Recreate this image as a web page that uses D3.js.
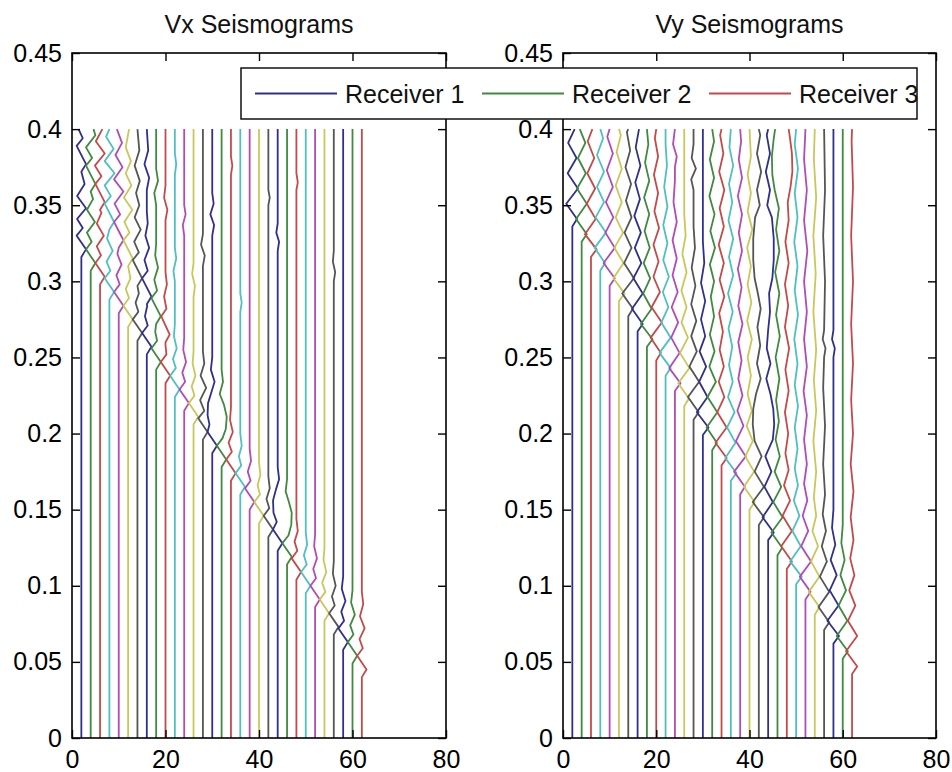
<!DOCTYPE html>
<html>
<head>
<meta charset="utf-8">
<script src="https://cdn.jsdelivr.net/npm/d3@7"></script>
<style>
  body { margin: 0; background: #fff; }
  svg text { font-family: "Liberation Sans", Arial, Helvetica, sans-serif; }
</style>
</head>
<body>
<svg id="fig" width="952" height="772"></svg>
<script>
// Receiver offsets (one seismogram trace per receiver)
const offsets = [2,4,6,8,10,12,14,16,18,20,22,24,26,28,30,32,34,36,38,40,42,44,46,48,50,52,54,56,58,60,62];

// Axis ticks
const timeTicks = [0,0.05,0.1,0.15,0.2,0.25,0.3,0.35,0.4,0.45];
const timeLabels = ["0","0.05","0.1","0.15","0.2","0.25","0.3","0.35","0.4","0.45"];
const offsetTicks = [0,20,40,60,80];

// Line colour order (cycled over traces)
const traceColors = ["#30308c","#3f8a3f","#c44a4a","#4fc0c0","#b04cb4","#c8c85a","#555555"];
const legendLabels = ["Receiver 1","Receiver 2","Receiver 3"];

// Vx traces, receiver 1..31: "time_ms,deflection" vertices (deflection in offset units)
const vxTraces = [
"0,0 316,0 321,1.0 330,-1.0 335,0.3 341,-0.9 348,1.0 356,-0.9 364,0.7 372,0 377,1.0 389,-1.0 394,0.3 400,-0.6",
"0,0 307,0 312,1.0 321,-1.0 326,0.2 332,-0.8 339,0.9 347,-0.8 354,0.5 359,0 364,1.0 376,-1.0 381,0.3 388,-1.0 396,1.0 400,0.6",
"0,0 298,0 303,1.0 312,-1.0 317,0.2 323,-0.7 330,0.8 338,-0.7 345,0.3 347,0 352,1.0 364,-1.0 369,0.3 376,-1.1 384,1.0 392,-0.9 400,0.5",
"0,0 288,0 293,1.0 302,-1.0 307,0.2 313,-0.6 320,0.7 328,-0.5 334,0 339,1.0 351,-1.0 356,0.3 363,-1.0 371,1.1 379,-1.0 387,0.9 395,-0.7 400,0",
"0,0 279,0 284,1.0 293,-1.0 298,0.2 304,-0.5 311,0.6 318,-0.3 322,0 327,1.0 339,-1.0 344,0.3 351,-0.9 359,1.0 367,-1.0 375,0.8 383,-0.7 391,0.7 400,-0.4",
"0,0 270,0 275,1.0 284,-1.0 289,0.2 295,-0.5 302,0.5 310,0 315,1.0 327,-1.0 332,0.3 339,-0.8 347,0.9 355,-0.9 363,0.7 371,-0.5 379,0.6 388,-0.5 400,0.2",
"0,0 261,0 266,1.0 275,-1.0 280,0.2 286,-0.4 292,0.3 297,0 302,1.0 314,-1.0 319,0.3 326,-0.7 334,0.7 342,-0.6 350,0.4 358,-0.3 366,0.5 376,-0.6 386,0.4 400,0",
"0,0 252,0 257,1.0 266,-1.0 271,0.2 277,-0.4 284,0.1 285,0 290,1.0 302,-1.0 307,0.2 314,-0.5 322,0.5 330,-0.3 338,0.2 346,0 360,0 368,0.5 377,-0.5 386,0.3 400,0",
"0,0 242,0 247,1.0 256,-1.0 261,0.2 267,-0.2 272,0 277,1.0 289,-1.0 294,0.2 301,-0.4 309,0.4 317,-0.2 325,0 350,0 358,-0.4 366,0.4 374,0 400,0",
"0,0 233,0 238,1.0 247,-1.0 252,0.2 258,0 260,0 265,0.9 277,-0.9 282,0.2 290,-0.3 298,0.3 306,0 340,0 347,0.4 355,-0.3 363,0 400,0",
"0,0 224,0 229,1.0 238,-1.0 243,0.2 249,-0.4 256,0.4 264,-0.2 272,0 300,0 307,-0.3 315,0.3 322,0 370,0 377,0.3 384,0 400,0",
"0,0 215,0 220,1.0 229,-1.0 234,0.2 240,-0.4 247,0.4 255,-0.2 263,0 330,0 337,-0.3 344,0.3 350,0 400,0",
"0,0 206,0 211,1.0 220,-1.0 225,0.2 231,-0.4 238,0.4 246,-0.2 254,0 290,0 297,0.3 305,-0.3 312,0 400,0",
"0,0 196,0 201,1.0 210,-1.0 215,0.3 222,-0.6 230,0.7 238,-0.5 246,0.3 254,0 310,0 317,0.4 324,-0.4 331,0 400,0",
"0,0 187,0 192,1.0 201,-1.0 206,-0.6 212,-1.0 220,-0.9 227,-0.2 234,0.5 242,-0.3 250,0 330,0 337,0.4 344,-0.4 351,0.3 358,0 400,0",
"0,0 178,0 183,1.0 192,-1.0 197,0.2 203,0.9 211,1.1 219,0.5 226,-0.4 234,0.3 242,0 400,0",
"0,0 169,0 174,1.0 183,-1.0 188,0.2 194,-0.5 201,0.4 209,-0.2 217,0 370,0 376,0.3 382,0 400,0",
"0,0 160,0 165,1.0 174,-1.0 179,0.2 185,-0.3 192,0.3 200,0 280,0 286,0.3 292,0 400,0",
"0,0 150,0 155,1.0 164,-1.0 169,0.2 175,-0.4 182,0.3 190,0 400,0",
"0,0 141,0 146,1.0 155,-1.0 160,0.2 166,-0.3 173,0.3 181,0 400,0",
"0,0 132,0 137,1.0 146,-1.0 151,0.2 157,-0.4 164,0.3 172,0 350,0 355,0.3 360,0 400,0",
"0,0 123,0 128,1.0 137,-1.0 142,-0.2 148,-0.9 156,-1.0 163,-0.4 170,0.3 178,0 320,0 326,0.3 332,-0.3 338,0 400,0",
"0,0 114,0 119,1.0 128,-1.0 133,0.3 140,0.9 148,1.0 155,0.4 162,-0.3 170,0 400,0",
"0,0 104,0 109,1.0 118,-1.0 123,0.2 129,-0.4 136,0.3 144,0 360,0 365,0.3 371,0 400,0",
"0,0 95,0 100,1.0 109,-1.0 114,0.2 120,-0.4 127,0.3 135,0 400,0",
"0,0 86,0 91,1.0 100,-1.0 105,0.2 111,-0.4 118,0.4 126,-0.2 134,0 400,0",
"0,0 77,0 82,1.0 91,-1.0 96,0.2 102,-0.5 109,0.4 117,-0.2 125,0 400,0",
"0,0 68,0 73,1.0 82,-1.0 87,0.2 93,-0.4 100,0.4 108,-0.2 116,0 300,0 306,0.3 313,-0.2 320,0 400,0",
"0,0 58,0 63,1.0 72,-1.0 77,0.2 83,-0.4 90,0.5 98,-0.3 106,0 400,0",
"0,0 49,0 54,1.0 63,-1.0 68,0.2 74,-0.5 81,0.5 89,-0.3 97,0 400,0",
"0,0 40,0 45,1.0 54,-1.0 59,0.2 65,-0.5 72,0.6 80,-0.4 88,0.3 96,0 400,0"
];

// Vy traces, receiver 1..31
const vyTraces = [
"0,0 336,0 341,1.0 351,-1.3 361,1.2 371,-1.0 381,0.9 391,-0.9 400,0.5",
"0,0 326,0 331,1.1 341,-1.2 351,1.1 361,-1.0 371,0.9 381,-0.8 391,0.8 400,-0.4",
"0,0 316,0 321,1.2 331,-1.3 341,1.0 351,-0.9 361,0.9 371,-0.8 381,0.7 392,-0.7 400,0.3",
"0,0 307,0 312,1.0 322,-1.2 332,1.2 342,-1.0 352,0.8 362,-0.7 372,0.8 383,-0.7 394,0.6 400,0",
"0,0 297,0 302,1.1 312,-1.3 322,1.1 332,-0.9 342,0.8 352,-0.8 362,0.7 373,-0.6 384,0.7 395,-0.5 400,0",
"0,0 287,0 292,1.2 302,-1.2 312,1.0 322,-1.0 332,0.9 342,-0.7 352,0.6 363,-0.7 374,0.6 385,-0.5 396,0.4 400,0",
"0,0 277,0 282,1.0 292,-1.3 302,1.2 312,-0.9 322,0.7 332,-0.8 342,0.7 353,-0.5 364,0.6 375,-0.6 386,0.4 398,-0.3 400,0",
"0,0 267,0 272,1.1 282,-1.2 292,1.1 302,-0.9 312,0.8 322,-0.6 332,0.7 343,-0.7 354,0.5 365,-0.5 376,0.6 388,-0.4 400,0.3",
"0,0 257,0 262,1.2 272,-1.3 282,1.0 292,-0.8 302,0.7 312,-0.7 322,0.6 333,-0.5 344,0.5 355,-0.6 366,0.5 378,-0.4 390,0.3 400,0",
"0,0 248,0 253,1.0 263,-1.2 273,1.2 283,-1.0 293,0.8 303,-0.6 313,0.5 324,-0.6 335,0.6 346,-0.4 358,0.4 370,-0.5 382,0.4 394,-0.3 400,0",
"0,0 238,0 243,1.1 253,-1.3 263,1.1 273,-0.9 283,0.6 293,-0.6 303,0.7 314,-0.5 325,0.4 337,-0.5 349,0.4 362,-0.3 376,0.3 390,0 400,0",
"0,0 228,0 233,1.2 243,-1.2 253,1.0 263,-0.8 273,0.7 283,-0.7 293,0.6 304,-0.5 315,0.4 327,-0.5 339,0.4 352,-0.3 366,0 375,0 382,0.4 390,-0.4 400,0",
"0,0 218,0 223,1.0 233,-1.3 243,1.1 253,-0.9 263,0.8 273,-0.6 283,0.5 294,-0.6 306,0.5 318,-0.4 330,0.3 344,0 400,0",
"0,0 209,0 214,1.1 224,-1.2 234,1.2 244,-0.9 254,0.7 264,-0.5 274,0.6 285,-0.5 297,0.4 309,-0.4 322,0.3 336,0 360,0 367,-0.5 374,0.5 381,-0.4 390,0 400,0",
"0,0 199,0 204,1.2 214,-1.3 224,1.0 234,-0.8 244,0.7 254,-0.7 264,0.5 275,-0.4 287,0.5 299,-0.4 312,0.3 326,0 400,0",
"0,0 189,0 194,1.0 204,-1.2 214,1.1 224,-1.0 234,0.8 244,-0.6 254,0.5 265,-0.5 277,0.4 290,-0.3 300,0.4 311,-0.5 322,0.6 333,-0.4 344,0.5 356,-0.6 368,0.4 380,-0.5 392,0.4 400,0",
"0,0 179,0 184,1.1 194,-1.3 204,1.1 214,-0.9 224,0.6 234,-0.6 244,0.5 255,-0.4 267,0.3 279,-0.5 290,0.6 301,-0.4 312,0.5 324,-0.6 336,0.5 348,-0.4 360,0.6 372,-0.5 384,0.4 396,-0.3 400,0",
"0,0 169,0 174,1.2 184,-1.2 194,1.0 204,-0.8 214,0.8 224,-0.6 234,0.4 245,-0.4 257,0.3 269,-0.5 280,0.4 292,-0.6 304,0.5 316,-0.4 328,0.5 340,-0.5 352,0.3 364,-0.4 376,0.5 388,-0.3 400,0",
"0,0 160,0 165,1.0 175,-1.3 185,1.2 195,-0.9 205,0.7 215,-0.6 225,0.5 236,-0.4 248,0.3 260,-0.4 272,0.5 284,-0.4 296,0.3 308,-0.5 320,0.4 332,-0.3 344,0.4 356,-0.5 368,0.4 380,-0.3 392,0.2 400,0",
"0,0 150,0 155,1.1 165,-1.2 175,1.0 185,-0.9 195,0.7 205,-0.6 215,0.5 226,-0.4 238,0.3 250,-0.4 262,0.5 274,-0.5 286,0.4 298,-0.4 310,0.3 322,-0.5 334,0.6 346,-0.4 358,0.3 370,-0.4 382,0.3 400,0",
"0,0 140,0 145,1.1 155,-1.3 165,1.1 175,-0.9 185,0.6 195,-0.9 206,-1.3 216,-1.2 226,-0.6 236,0.4 246,-0.4 258,0.3 270,-0.3 282,0.4 292,-0.2 302,-0.9 314,-1.2 328,-1.2 342,-0.8 350,0.2 360,-0.4 372,0.5 384,-0.4 396,0.3 400,0",
"0,0 130,0 135,1.2 145,-1.2 155,1.0 165,-0.8 175,0.7 185,-0.6 196,1.0 206,1.3 216,1.1 226,0.5 236,-0.4 246,0.5 256,-0.3 268,0 280,0.4 292,0.2 302,0.9 314,1.2 328,1.2 342,0.8 350,-0.2 360,0.4 372,-0.5 384,0.4 396,-0.3 400,0",
"0,0 120,0 125,1.0 135,-1.3 145,1.1 155,-0.9 165,0.8 175,-0.6 185,0.5 196,-0.4 208,0.3 222,-0.3 236,0.4 250,-0.4 264,0.5 278,-0.3 292,0.4 306,-0.5 320,0.4 334,-0.3 348,0.3 360,-0.6 370,-1.1 382,-1.2 394,-0.8 400,-0.5",
"0,0 111,0 116,1.1 126,-1.2 136,1.1 146,-0.9 156,0.7 166,-0.6 176,0.4 187,-0.3 200,0.3 214,-0.4 228,0.4 242,-0.3 256,0.5 270,-0.4 284,0.3 298,-0.4 312,0.4 326,-0.3 340,0.4 352,0.2 362,0.8 372,1.2 384,1.1 396,0.6 400,0.4",
"0,0 101,0 106,1.2 116,-1.3 126,1.0 136,-0.8 146,0.7 156,-0.5 166,0.4 177,-0.3 190,0.3 204,-0.3 218,0.4 232,-0.3 246,0.3 262,-0.4 278,0.4 294,-0.3 310,0.3 326,-0.4 342,0.3 358,-0.3 374,0.4 390,-0.3 400,0",
"0,0 91,0 96,1.1 106,-1.2 116,1.2 126,-0.9 136,0.6 146,-0.6 156,0.4 167,-0.3 180,0.3 196,-0.3 212,0.3 228,-0.4 244,0.3 262,-0.3 280,0.3 300,-0.3 320,0.4 340,-0.3 360,0.3 380,-0.3 400,0",
"0,0 81,0 86,1.0 96,-1.3 106,1.0 116,-0.8 126,0.7 136,-0.5 146,0.3 158,-0.2 175,0.3 195,-0.3 215,0.3 235,-0.2 255,0.3 280,-0.3 305,0.2 330,-0.3 355,0.3 380,-0.2 400,0",
"0,0 71,0 76,1.1 86,-1.2 96,1.1 106,-0.9 116,0.6 126,-0.5 136,0.4 147,-0.3 160,0.2 180,-0.2 205,0.2 230,-0.2 250,0 256,0.3 262,-0.3 268,0 300,0.2 330,-0.2 360,0.2 400,0",
"0,0 62,0 67,1.2 77,-1.3 87,1.1 97,-0.8 107,0.7 117,-0.6 127,0.4 138,-0.3 150,0 250,0 256,0.3 262,-0.3 268,0 400,0",
"0,0 52,0 57,1.1 67,-1.3 77,1.0 87,-0.9 97,0.7 107,-0.5 117,0.4 128,-0.3 140,0 400,0",
"0,0 42,0 47,1.1 57,-1.3 67,1.1 77,-0.9 87,0.7 97,-0.6 107,0.5 118,-0.4 130,0.3 145,-0.3 162,0.3 180,-0.3 200,0.2 222,-0.2 246,0.2 272,-0.2 300,0.2 330,-0.2 362,0.2 392,-0.1 400,0"
];

function parseTrace(str) {
  return str.trim().split(/\s+/).map(pair => {
    const [ms, d] = pair.split(",").map(Number);
    return { t: ms / 1000, d: d };
  });
}

const svg = d3.select("#fig");
const FONT_SIZE = 25;
const axTop = 53, axBottom = 738;

const panels = [
  { title: "Vx Seismograms", left: 72, right: 446, traces: vxTraces },
  { title: "Vy Seismograms", left: 563, right: 936, traces: vyTraces }
];

panels.forEach(p => {
  const x = d3.scaleLinear().domain([0, 80]).range([p.left, p.right]);
  const y = d3.scaleLinear().domain([0, 0.45]).range([axBottom, axTop]);
  const g = svg.append("g");

  const line = d3.line().x(v => x(v.off + v.d)).y(v => y(v.t));

  // seismogram traces
  g.append("g").selectAll("path")
    .data(p.traces.map((s, i) => ({ off: offsets[i], pts: parseTrace(s), i })))
    .join("path")
    .attr("d", tr => line(tr.pts.map(v => ({ off: tr.off, d: v.d, t: v.t }))))
    .attr("fill", "none")
    .attr("stroke", tr => traceColors[tr.i % traceColors.length])
    .attr("stroke-width", 1.8)
    .attr("stroke-linejoin", "round");

  // axes (ticks inward, mirrored on opposite sides)
  const styleAxis = sel => {
    sel.select(".domain").remove();
    sel.selectAll(".tick line").attr("stroke", "#000").attr("stroke-width", 1.4);
    sel.selectAll(".tick text").attr("fill", "#000").style("font-size", FONT_SIZE + "px");
  };
  g.append("g").attr("transform", `translate(${p.left},0)`)
    .call(d3.axisLeft(y).tickValues(timeTicks).tickFormat((d, i) => timeLabels[i])
      .tickSizeInner(-8).tickSizeOuter(0).tickPadding(10))
    .call(styleAxis);
  g.append("g").attr("transform", `translate(${p.right},0)`)
    .call(d3.axisRight(y).tickValues(timeTicks).tickFormat("").tickSizeInner(-8).tickSizeOuter(0))
    .call(styleAxis);
  g.append("g").attr("transform", `translate(0,${axBottom})`)
    .call(d3.axisBottom(x).tickValues(offsetTicks).tickFormat(d3.format("d"))
      .tickSizeInner(-8).tickSizeOuter(0).tickPadding(12))
    .call(styleAxis);
  g.append("g").attr("transform", `translate(0,${axTop})`)
    .call(d3.axisTop(x).tickValues(offsetTicks).tickFormat("").tickSizeInner(-8).tickSizeOuter(0))
    .call(styleAxis);

  // axes box
  g.append("rect")
    .attr("x", p.left).attr("y", axTop)
    .attr("width", p.right - p.left).attr("height", axBottom - axTop)
    .attr("fill", "none").attr("stroke", "#000").attr("stroke-width", 1.6);

  // title
  g.append("text")
    .attr("x", (p.left + p.right) / 2).attr("y", 33)
    .attr("text-anchor", "middle")
    .style("font-size", FONT_SIZE + "px")
    .attr("fill", "#111")
    .text(p.title);
});

// legend (drawn last, over both axes)
const lg = svg.append("g");
const lgX = 241, lgY = 68, lgW = 676, lgH = 51;
lg.append("rect").attr("x", lgX).attr("y", lgY).attr("width", lgW).attr("height", lgH)
  .attr("fill", "#fff").attr("stroke", "#000").attr("stroke-width", 1.4);
legendLabels.forEach((lab, i) => {
  const ex = lgX + 14 + i * 227;
  const cy = lgY + lgH / 2;
  lg.append("line").attr("x1", ex).attr("x2", ex + 82).attr("y1", cy).attr("y2", cy)
    .attr("stroke", traceColors[i]).attr("stroke-width", 1.8);
  lg.append("text").attr("x", ex + 90).attr("y", cy + 9)
    .style("font-size", FONT_SIZE + "px").attr("fill", "#111").text(lab);
});
</script>
</body>
</html>
